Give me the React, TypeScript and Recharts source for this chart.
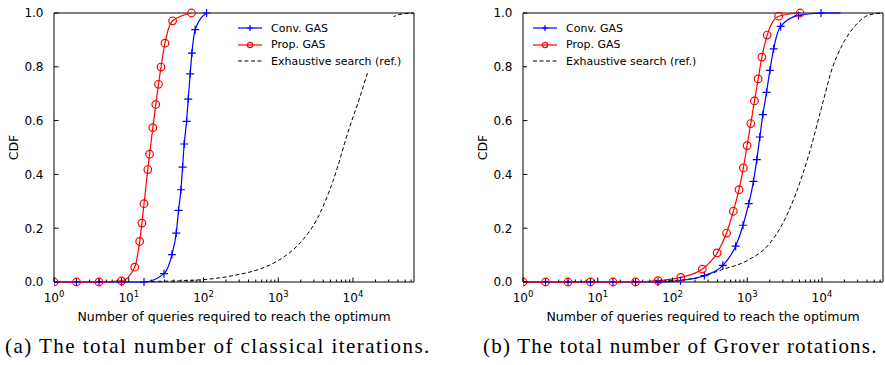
import { LineChart, Line, XAxis, YAxis, ReferenceArea } from "recharts";

const FONT = '"DejaVu Sans", sans-serif';
const X_MIN = 1;
const X_MAX = 65536;
const X_DECADES = [1, 10, 100, 1000, 10000];
const Y_TICKS = [0, 0.2, 0.4, 0.6, 0.8, 1.0];

// (a) classical iterations
const convA_x = [1, 2, 4, 8, 16, 29.6, 37.8, 43.2, 46.4, 49.9, 52.5, 55.2, 59.4, 62.5, 66.4, 70, 77.4, 110];
const convA_y = [0, 0, 0, 0, 0, 0.031, 0.102, 0.182, 0.266, 0.343, 0.427, 0.513, 0.597, 0.68, 0.774, 0.851, 0.938, 1.0];
const propA_x = [1, 2, 4, 8, 12, 14, 15, 16, 18, 19, 21, 23, 25, 27, 30.5, 38.6, 69];
const propA_y = [0, 0, 0, 0.004, 0.055, 0.151, 0.219, 0.291, 0.418, 0.475, 0.574, 0.66, 0.735, 0.799, 0.888, 0.971, 1.0];
const exhA_x = [20, 90, 250, 700, 1000, 1950, 3250, 5400, 9000, 12300, 15900, 22000, 28000, 36200, 50000, 65536];
const exhA_y = [0.002, 0.008, 0.024, 0.058, 0.08, 0.145, 0.23, 0.375, 0.575, 0.685, 0.782, 0.88, 0.95, 0.988, 0.998, 1.0];

// (b) Grover rotations
const convB_x = [1, 2, 4, 8, 16, 32, 64, 128, 267, 472, 700, 879, 1047, 1211, 1343, 1474, 1618, 1812, 2010, 2254, 2800, 4842, 9700];
const convB_y = [0, 0, 0, 0, 0, 0, 0, 0.005, 0.024, 0.062, 0.133, 0.211, 0.291, 0.374, 0.455, 0.539, 0.622, 0.705, 0.787, 0.867, 0.95, 0.991, 1.0];
const convBTail_x = [9700, 17700];
const convBTail_y = [1.0, 1.0];
const propB_x = [1, 2, 4, 8, 16, 32, 64, 129, 251, 396, 529, 651, 776, 888, 995, 1115, 1250, 1400, 1570, 1850, 2630, 5100];
const propB_y = [0, 0, 0, 0, 0, 0, 0.005, 0.017, 0.048, 0.108, 0.182, 0.263, 0.343, 0.424, 0.507, 0.589, 0.673, 0.755, 0.836, 0.918, 0.988, 1.0];
const exhB_x = [60, 200, 452, 1035, 1925, 2910, 4400, 6650, 10070, 13700, 18700, 28300, 42900, 65536];
const exhB_y = [0.002, 0.014, 0.045, 0.082, 0.138, 0.212, 0.323, 0.472, 0.658, 0.794, 0.881, 0.955, 0.993, 1.0];

const LEGEND = ["Conv. GAS", "Prop. GAS", "Exhaustive search (ref.)"];
const X_LABEL = "Number of queries required to reach the optimum";
const CAPTIONS = ["(a) The total number of classical iterations.", "(b) The total number of Grover rotations."];

const zip = (xs: number[], ys: number[]) => xs.map((x, i) => ({ x, y: ys[i] }));

// major + minor log ticks
const X_TICKS = X_DECADES.flatMap((d) => [1, 2, 3, 4, 5, 6, 7, 8, 9].map((m) => d * m)).filter((v) => v <= X_MAX);

const XTick = ({ x, y, payload }: any) => {
    const lg = Math.log10(payload.value);
    const exp = Math.round(lg);
    const major = Math.abs(lg - exp) < 1e-9;
    return (
        <g>
            <line x1={x} x2={x} y1={y} y2={y - (major ? 4.5 : 2.5)} stroke="#000" strokeWidth={1} />
            {major && (
                <text x={x} y={y + 20} textAnchor="middle" fontSize={12} fontFamily={FONT} fill="#000">
                    10<tspan dy={-5} fontSize={8.5}>{exp}</tspan>
                </text>
            )}
        </g>
    );
};

const YTick = ({ x, y, payload }: any) => (
    <g>
        <line x1={x} x2={x + 4.5} y1={y} y2={y} stroke="#000" strokeWidth={1} />
        <text x={x - 10.5} y={y} dy="0.36em" textAnchor="end" fontSize={12} fontFamily={FONT} fill="#000">
            {payload.value.toFixed(1)}
        </text>
    </g>
);

const plusDot = (p: any) => (
    <path key={`pl-${p.index}`} d={`M${p.cx - 4},${p.cy}h8M${p.cx},${p.cy - 4}v8`} stroke="#0000ff" strokeWidth={1.2} fill="none" />
);
const circleDot = (p: any) => (
    <circle key={`ci-${p.index}`} cx={p.cx} cy={p.cy} r={3.8} stroke="#ff0000" strokeWidth={1.2} fill="none" />
);

function LegendBox({ left }: { left: number }) {
    const samples = [
        <g key="a"><line x1={0} x2={24} y1={5} y2={5} stroke="#0000ff" strokeWidth={1.2} /><path d="M9,5h6M12,2v6" stroke="#0000ff" strokeWidth={1.2} /></g>,
        <g key="b"><line x1={0} x2={24} y1={5} y2={5} stroke="#ff0000" strokeWidth={1.2} /><circle cx={12} cy={5} r={2.6} stroke="#ff0000" strokeWidth={1.2} fill="none" /></g>,
        <g key="c"><line x1={0} x2={24} y1={5} y2={5} stroke="#000" strokeWidth={1} strokeDasharray="4 2.5" /></g>,
    ];
    return (
        <div style={{ position: "absolute", left, top: 17, background: "#fff", padding: "3px 6px 3px 6px", fontFamily: FONT }}>
            {LEGEND.map((name, i) => (
                <div key={name} style={{ display: "flex", alignItems: "center", height: 16.5 }}>
                    <svg width={24} height={10} style={{ display: "block" }}>{samples[i]}</svg>
                    <span style={{ marginLeft: 9, fontSize: 11, whiteSpace: "nowrap", color: "#000" }}>{name}</span>
                </div>
            ))}
        </div>
    );
}

interface PanelProps {
    left: number;
    width: number;
    marginRight: number;
    legendLeft: number;
    conv: { x: number; y: number }[];
    convTail?: { x: number; y: number }[];
    prop: { x: number; y: number }[];
    exh: { x: number; y: number }[];
}

function Panel({ left, width, marginRight, legendLeft, conv, convTail, prop, exh }: PanelProps) {
    return (
        <div style={{ position: "absolute", left, top: 0, width, height: 330 }}>
            <LineChart width={width} height={330} margin={{ top: 13, right: marginRight, bottom: 0, left: 0 }}>
                <XAxis
                    dataKey="x" type="number" scale="log" domain={[X_MIN, X_MAX]} allowDataOverflow
                    ticks={X_TICKS} interval={0} tick={<XTick />} tickSize={0} tickMargin={0}
                    tickLine={false} axisLine={false} height={48}
                    label={(p: any) => (
                        <text x={p.viewBox.x + p.viewBox.width / 2} y={p.viewBox.y + 34} dy="0.36em" textAnchor="middle"
                            fontSize={12.5} fontFamily={FONT} fill="#000">{X_LABEL}</text>
                    )}
                />
                <YAxis
                    type="number" domain={[0, 1]} ticks={Y_TICKS} interval={0} tick={<YTick />}
                    tickSize={0} tickMargin={0} tickLine={false} axisLine={false} width={54}
                    label={(p: any) => {
                        const cx = p.viewBox.x + 13;
                        const cy = p.viewBox.y + p.viewBox.height / 2;
                        return (
                            <text x={cx} y={cy} dy="0.36em" textAnchor="middle" transform={`rotate(-90 ${cx} ${cy})`}
                                fontSize={12.5} fontFamily={FONT} fill="#000">CDF</text>
                        );
                    }}
                />
                <ReferenceArea x1={X_MIN} x2={X_MAX} y1={0} y2={1} fill="none" stroke="#000" strokeWidth={1} ifOverflow="visible" />
                <Line data={exh} dataKey="y" type="monotone" stroke="#000" strokeWidth={1} strokeDasharray="4 2.5" dot={false} activeDot={false} isAnimationActive={false} />
                {convTail && (
                    <Line data={convTail} dataKey="y" type="monotone" stroke="#0000ff" strokeWidth={1.2} dot={false} activeDot={false} isAnimationActive={false} />
                )}
                <Line data={conv} dataKey="y" type="monotone" stroke="#0000ff" strokeWidth={1.2} dot={plusDot} activeDot={false} isAnimationActive={false} />
                <Line data={prop} dataKey="y" type="monotone" stroke="#ff0000" strokeWidth={1.2} dot={circleDot} activeDot={false} isAnimationActive={false} />
            </LineChart>
            <LegendBox left={legendLeft} />
        </div>
    );
}

export default function App() {
    const capFont = '"Liberation Serif", serif';
    return (
        <div style={{ position: "absolute", left: 0, top: 0, width: 885, height: 365, background: "#fff", overflow: "hidden" }}>
            <Panel left={0} width={441} marginRight={27} legendLeft={232}
                conv={zip(convA_x, convA_y)} prop={zip(propA_x, propA_y)} exh={zip(exhA_x, exhA_y)} />
            <Panel left={469} width={416} marginRight={2} legendLeft={58}
                conv={zip(convB_x, convB_y)} convTail={zip(convBTail_x, convBTail_y)}
                prop={zip(propB_x, propB_y)} exh={zip(exhB_x, exhB_y)} />
            <svg width={885} height={35} style={{ position: "absolute", left: 0, top: 330 }}>
                <text x={5} y={23} fontSize={21} letterSpacing={1.45} fontFamily={capFont} fill="#000">{CAPTIONS[0]}</text>
                <text x={483} y={23} fontSize={21} letterSpacing={1.2} fontFamily={capFont} fill="#000">{CAPTIONS[1]}</text>
            </svg>
        </div>
    );
}
